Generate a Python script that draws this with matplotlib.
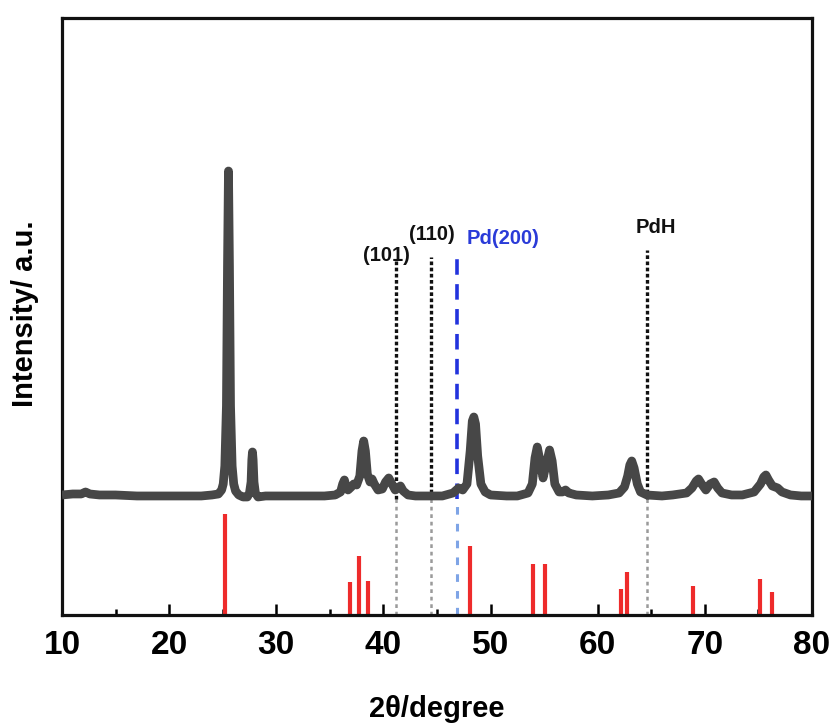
import matplotlib
matplotlib.use("Agg")
import matplotlib.pyplot as plt
from matplotlib.ticker import MultipleLocator

plt.rcParams['font.family'] = ['Liberation Sans', 'DejaVu Sans']
plt.rcParams['font.weight'] = 'bold'

# ---- measured XRD pattern (2theta, intensity a.u.) ----
two_theta = [10.0, 11.0, 11.8, 12.2, 12.6, 13.5, 15.0, 17.0, 19.0, 21.0, 23.0, 24.0,
             24.6, 24.9, 25.05, 25.2, 25.35, 25.45, 25.54, 25.63, 25.73, 25.88, 26.03, 26.2, 26.5,
             26.9, 27.3, 27.5, 27.65, 27.72, 27.78, 27.84, 27.92, 28.05, 28.3, 29.0,
             31.0, 33.0, 34.5, 35.5, 36.0, 36.2, 36.36, 36.5, 36.7, 37.0, 37.23, 37.5,
             37.8, 38.0, 38.16, 38.32, 38.5, 38.75, 38.94, 39.15, 39.5, 39.9, 40.2, 40.5,
             40.8, 41.1, 41.35, 41.59, 41.85, 42.3, 43.0, 44.5, 45.5, 46.5, 47.03, 47.4,
             47.8, 48.1, 48.3, 48.44, 48.6, 48.8, 49.1, 49.5, 50.0, 51.5, 52.5, 53.5,
             53.9, 54.15, 54.36, 54.6, 54.9, 55.2, 55.51, 55.75, 56.0, 56.4, 56.7, 57.0,
             57.3, 58.0, 59.5, 61.0, 62.0, 62.5, 62.8, 63.0, 63.18, 63.4, 63.7, 64.0,
             64.6, 66.0, 67.0, 68.3, 68.8, 69.2, 69.41, 69.7, 70.1, 70.5, 70.87, 71.2,
             71.6, 72.5, 73.5, 74.6, 75.2, 75.5, 75.7, 75.95, 76.3, 76.8, 77.2, 78.0,
             79.0, 80.0]
intensity = [1, 2, 2, 4, 2, 1, 1, 0, 0, 0, 0, 1,
             2, 6, 12, 30, 90, 230, 325, 230, 90, 30, 12, 5, 1,
             -1, -1, 3, 14, 36, 44, 36, 14, 3, -1, 0,
             0, 0, 0, 1, 4, 12, 16, 10, 6, 9, 12, 11,
             20, 45, 55, 45, 22, 14, 17, 12, 6, 7, 14, 18,
             12, 6, 8, 10, 5, 1, 0, 0, 0, 3, 8, 6,
             12, 45, 75, 79, 72, 40, 12, 4, 1, 0, 0, 3,
             12, 38, 49, 36, 18, 32, 46, 35, 12, 4, 4, 6,
             3, 1, 0, 1, 3, 9, 20, 31, 35, 28, 12, 4,
             1, 0, 1, 3, 8, 15, 17, 12, 6, 12, 14, 8,
             3, 1, 1, 4, 12, 19, 21, 16, 10, 8, 4, 1,
             0, 0]

# ---- reference pattern (anatase), relative intensity % ----
ref_positions = [25.23, 36.92, 37.76, 38.57, 48.04, 53.93, 55.05, 62.15, 62.77,
                 68.88, 75.14, 76.23]
ref_intensity = [100, 33, 58, 34, 68, 50, 50, 26, 43, 29, 36, 23]

# ---- marker lines ----
marker_pos = [41.21, 44.46, 46.89, 64.58]
marker_top = [235, 239, 241, 246]
marker_labels = ['(101)', '(110)', 'Pd(200)', 'PdH']
label_x = [40.28, 44.49, 51.17, 65.42]
label_y = [241, 262, 258, 269]

x_ticks = [10, 20, 30, 40, 50, 60, 70, 80]

YMIN, YMAX = -119, 478
REF_SCALE = 1.01
BASE = -3

fig = plt.figure(figsize=(8.32, 7.24), dpi=100)
ax = fig.add_axes([0.0745, 0.1506, 0.9014, 0.8245])

# reference bars
for p, r in zip(ref_positions, ref_intensity):
    ax.vlines(p, YMIN, YMIN + r * REF_SCALE, colors='#ee2b2b', linewidth=3.0, zorder=2)

# marker dashed lines
for i, (p, t) in enumerate(zip(marker_pos, marker_top)):
    if i == 2:
        ax.plot([p, p], [BASE, t], color='#2233dd', lw=2.6,
                dashes=(4.3, 2.6), zorder=3)
        ax.plot([p, p], [YMIN, BASE], color='#7ea4e6', lw=2.2,
                dashes=(2.5, 3.0), zorder=1)
    else:
        ax.plot([p, p], [BASE, t], color='#111111', lw=2.4,
                dashes=(1.1, 0.75), zorder=3)
        ax.plot([p, p], [YMIN, BASE], color='#9a9a9a', lw=1.8,
                dashes=(1.5, 1.5), zorder=1)

# measured curve
ax.plot(two_theta, intensity, color='#474747', lw=6.3, solid_joinstyle='round',
        solid_capstyle='butt', zorder=4)

for lab, lx, ly in zip(marker_labels, label_x, label_y):
    col = '#2a3bd8' if lab.startswith('Pd(') else '#111111'
    ax.text(lx, ly, lab, ha='center', va='center', fontsize=14.5,
            fontweight='bold', color=col, zorder=5)

ax.set_xlim(10, 80)
ax.set_ylim(YMIN, YMAX)
ax.set_yticks([])
ax.xaxis.set_major_locator(MultipleLocator(10))
ax.xaxis.set_minor_locator(MultipleLocator(5))
ax.set_xticks(x_ticks)
ax.set_xticklabels([str(t) for t in x_ticks])
ax.tick_params(axis='x', which='major', direction='in', length=8, width=1.8,
               labelsize=24, pad=11, top=False)
ax.tick_params(axis='x', which='minor', direction='in', length=4.3, width=1.8, top=False)
for lbl in ax.get_xticklabels():
    lbl.set_fontweight('bold')
for s in ax.spines.values():
    s.set_linewidth(2.3)
    s.set_color('#111111')

fig.text(437 / 832, 1 - 709 / 724, '2θ/degree', ha='center', va='center',
         fontsize=21, fontweight='bold')
fig.text(25 / 832, 1 - 314 / 724, 'Intensity/ a.u.', ha='center', va='center',
         rotation=90, fontsize=21, fontweight='bold')

fig.savefig('out.png', dpi=100)
